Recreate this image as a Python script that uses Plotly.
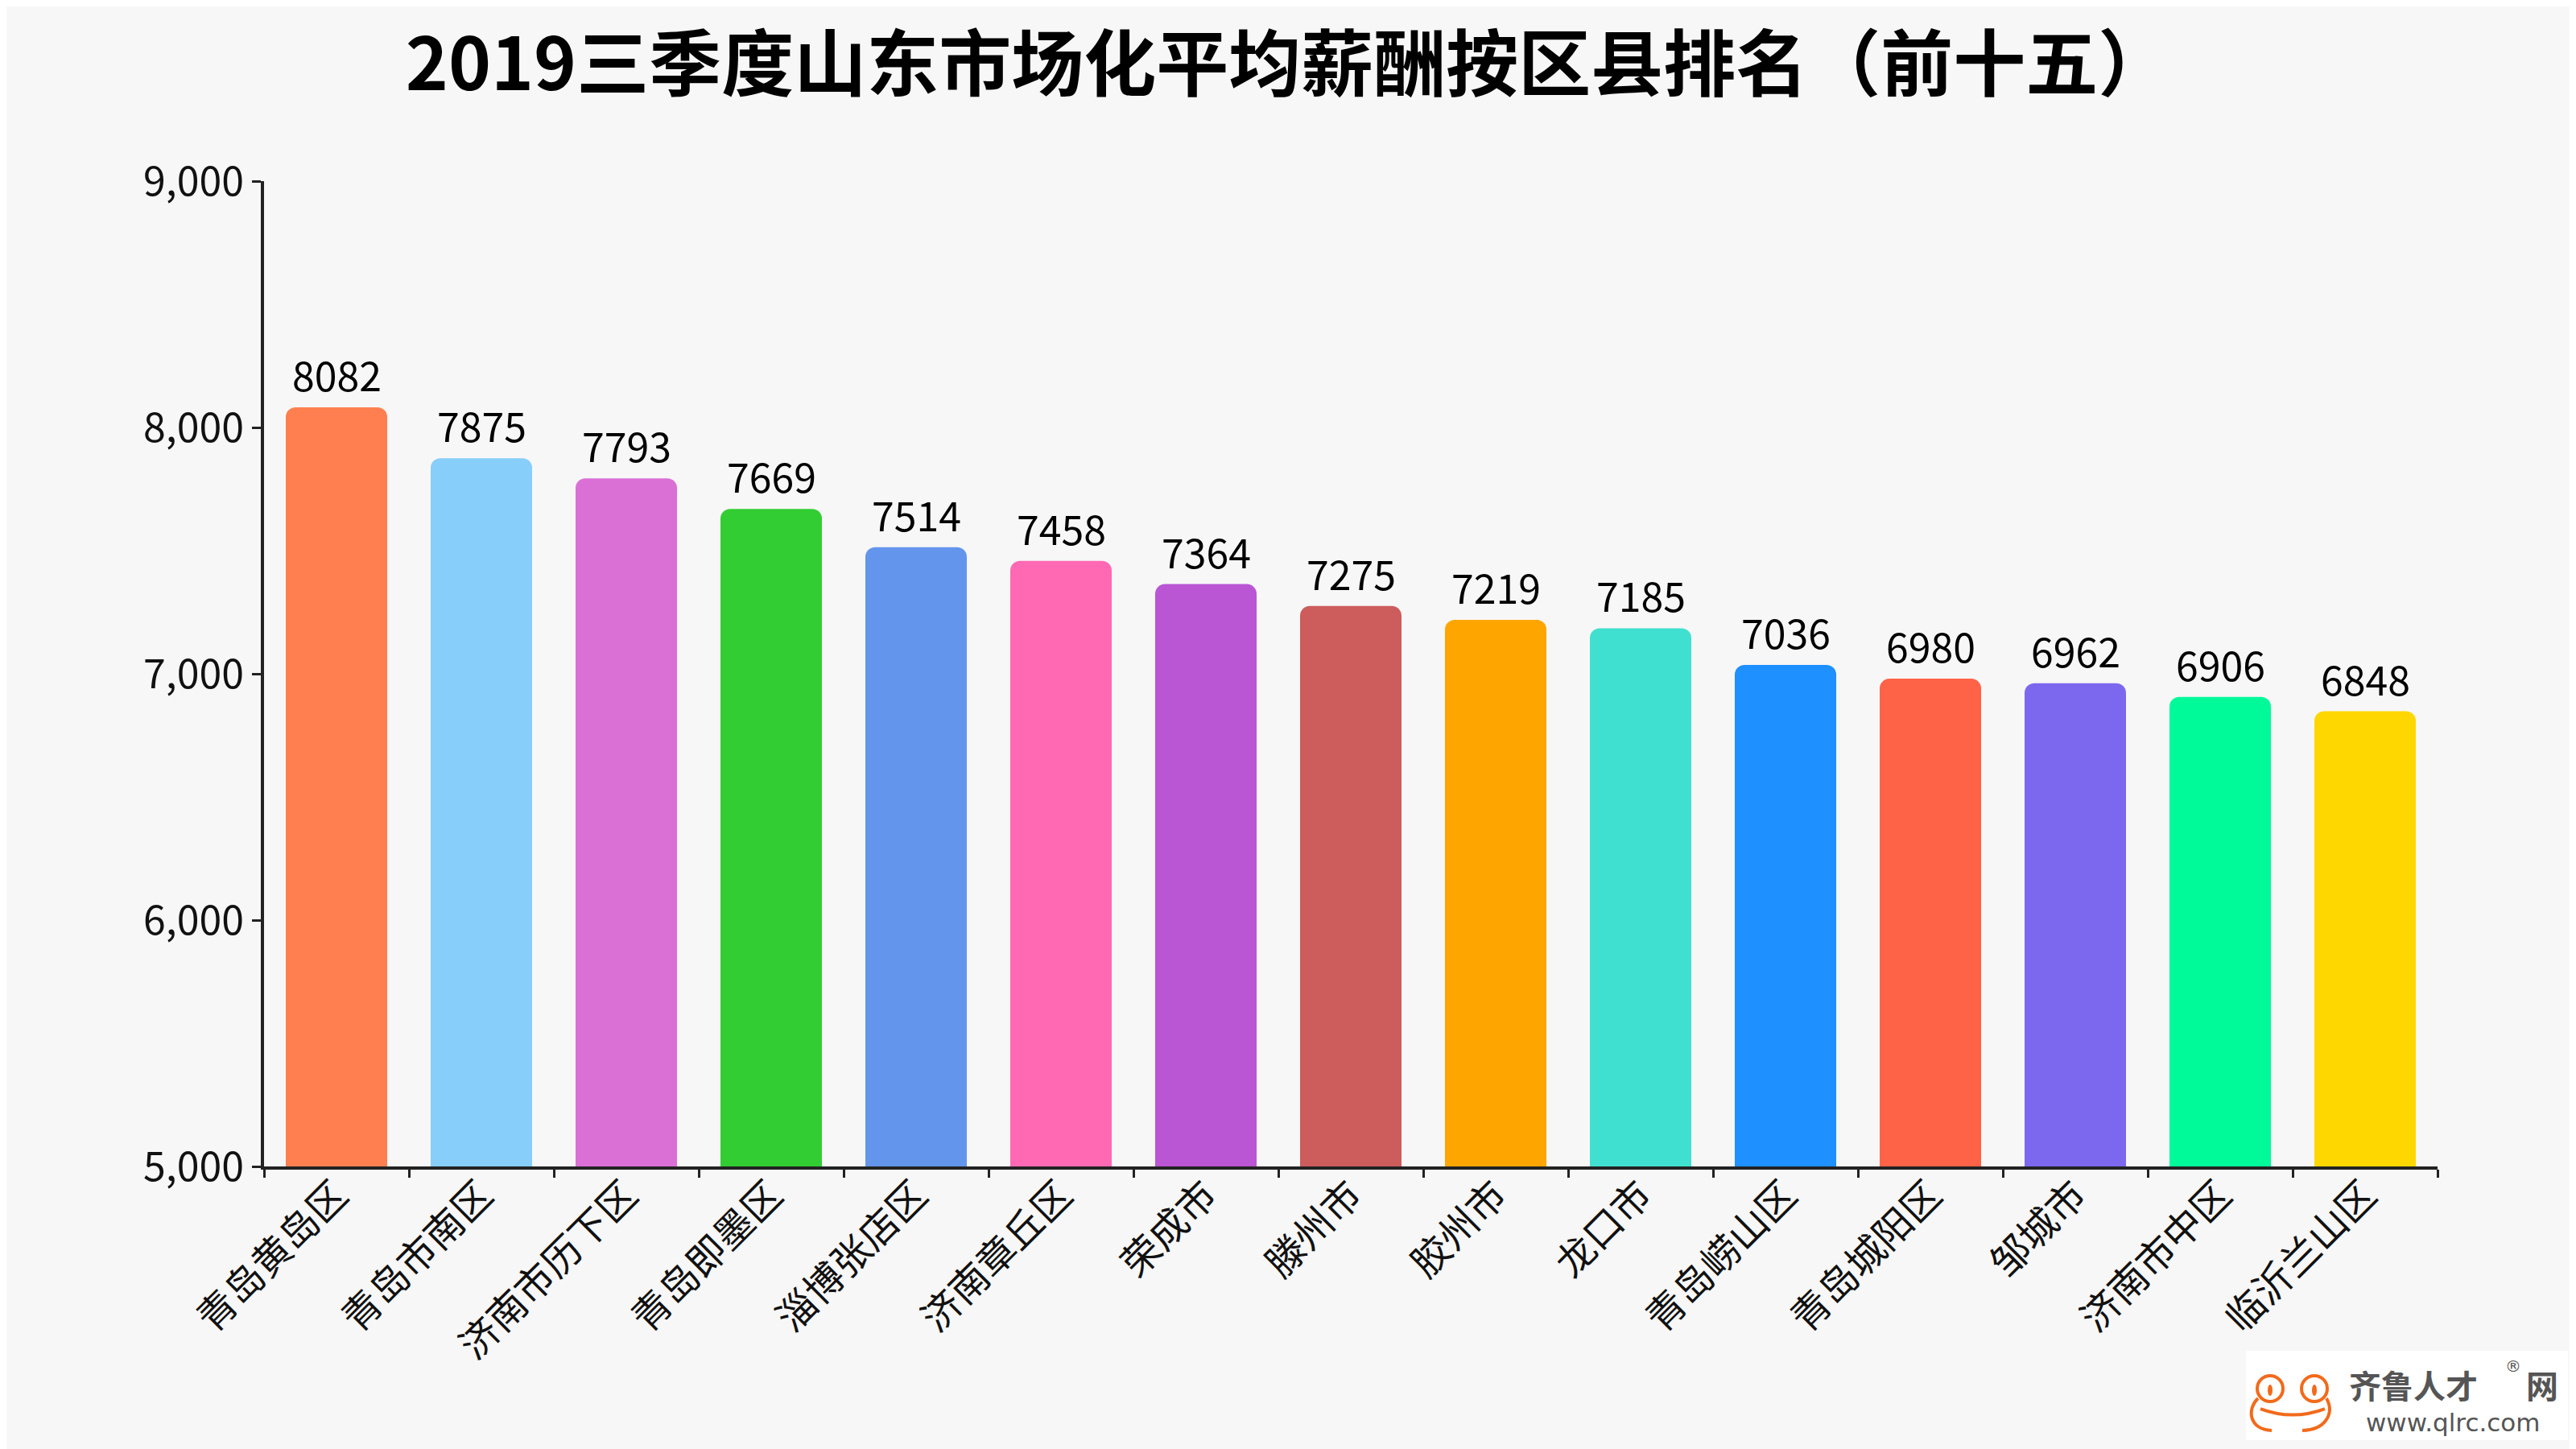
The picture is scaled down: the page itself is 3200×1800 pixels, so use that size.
import plotly.graph_objects as go

categories = ["青岛黄岛区", "青岛市南区", "济南市历下区", "青岛即墨区", "淄博张店区", "济南章丘区",
              "荣成市", "滕州市", "胶州市", "龙口市", "青岛崂山区", "青岛城阳区", "邹城市",
              "济南市中区", "临沂兰山区"]
salaries = [8082, 7875, 7793, 7669, 7514, 7458, 7364, 7275, 7219, 7185, 7036, 6980, 6962, 6906, 6848]
bar_colors = ["#FF7F50", "#87CEFA", "#DA70D6", "#32CD32", "#6495ED", "#FF69B4", "#BA55D3",
              "#CD5C5C", "#FFA500", "#40E0D0", "#1E90FF", "#FF6347", "#7B68EE", "#00FA9A", "#FFD700"]
y_ticks = [5000, 6000, 7000, 8000, 9000]
y_tick_labels = ["5,000", "6,000", "7,000", "8,000", "9,000"]
title_text = "2019三季度山东市场化平均薪酬按区县排名（前十五）"

FONT = "Noto Sans CJK SC, Noto Sans, sans-serif"
OFF = 8  # page body margin in the browser
W, H = 3200 - OFF, 1800 - OFF
# plot area in screen pixels
SX0, SX1, SY0, SY1 = 328, 3028, 225, 1449
PW, PH = SX1 - SX0, SY1 - SY0
L, T = SX0 - OFF, SY0 - OFF
R = W - L - PW
B = H - T - PH


def px(x):
    return (x - SX0) / PW


def py(y):
    return (SY1 - y) / PH


fig = go.Figure()
fig.add_trace(go.Bar(
    x=categories, y=salaries,
    marker=dict(color=bar_colors, line=dict(width=0)),
    width=0.7, hoverinfo="x+y",
))

annotations = []
for c, v in zip(categories, salaries):
    annotations.append(dict(x=c, y=v, xref="x", yref="y", text=str(v), showarrow=False,
                            yanchor="bottom", yshift=4,
                            font=dict(family=FONT, size=50, color="#000000")))

# Logo (decoration)
ORANGE = "#F26A1B"
shapes = [
    dict(type="rect", xref="paper", yref="paper", x0=px(2790), x1=px(3190), y0=py(1789), y1=py(1678),
         fillcolor="#FFFFFF", line=dict(width=0), layer="above"),
    dict(type="circle", xref="paper", yref="paper", x0=px(2804), x1=px(2836), y0=py(1741), y1=py(1709),
         line=dict(color=ORANGE, width=4), layer="above"),
    dict(type="circle", xref="paper", yref="paper", x0=px(2859), x1=px(2891), y0=py(1741), y1=py(1709),
         line=dict(color=ORANGE, width=4), layer="above"),
    dict(type="circle", xref="paper", yref="paper", x0=px(2817), x1=px(2823), y0=py(1734), y1=py(1720),
         fillcolor=ORANGE, line=dict(width=0), layer="above"),
    dict(type="circle", xref="paper", yref="paper", x0=px(2872), x1=px(2878), y0=py(1734), y1=py(1720),
         fillcolor=ORANGE, line=dict(width=0), layer="above"),
]


def P(x, y):
    return f"{px(x):.5f},{py(y):.5f}"


outline = (f"M {P(2805,1737)} C {P(2790,1752)} {P(2795,1776)} {P(2822,1777)} "
           f"M {P(2860,1777)} C {P(2890,1776)} {P(2900,1755)} {P(2890,1737)}")
mouth = f"M {P(2808,1750)} Q {P(2848,1765)} {P(2888,1750)}"
shapes.append(dict(type="path", xref="paper", yref="paper", path=outline,
                   line=dict(color=ORANGE, width=4), layer="above"))
shapes.append(dict(type="path", xref="paper", yref="paper", path=mouth,
                   line=dict(color=ORANGE, width=4), layer="above"))

annotations += [
    dict(xref="paper", yref="paper", x=px(2916), y=py(1720), xanchor="left", yanchor="middle",
         text="<b>齐鲁人才</b>", showarrow=False, font=dict(family=FONT, size=40, color="#555555")),
    dict(xref="paper", yref="paper", x=px(3158), y=py(1720), xanchor="center", yanchor="middle",
         text="<b>网</b>", showarrow=False, font=dict(family=FONT, size=40, color="#555555")),
    dict(xref="paper", yref="paper", x=px(3122), y=py(1697), xanchor="center", yanchor="middle",
         text="®", showarrow=False, font=dict(family="DejaVu Sans, sans-serif", size=20, color="#555555")),
    dict(xref="paper", yref="paper", x=px(3047), y=py(1767), xanchor="center", yanchor="middle",
         text="www.qlrc.com", showarrow=False,
         font=dict(family="DejaVu Sans, sans-serif", size=31, color="#555555")),
]

fig.update_layout(
    width=W, height=H,
    margin=dict(l=L, r=R, t=T, b=B, autoexpand=False),
    paper_bgcolor="#F7F7F7", plot_bgcolor="#F7F7F7",
    barcornerradius=12,
    showlegend=False,
    title=dict(text=title_text, x=(1600 - OFF) / W, xref="container", xanchor="center",
               y=1 - (80 - OFF) / H, yref="container", yanchor="middle",
               font=dict(family=FONT, size=90, color="#000000", weight="bold")),
    xaxis=dict(
        type="category", range=[-0.5, len(categories) - 0.5],
        showline=True, linecolor="#222222", linewidth=4,
        ticks="outside", ticklen=10, tickwidth=3, tickcolor="#222222", tickson="boundaries",
        tickangle=-45, tickfont=dict(family=FONT, size=48, color="#111111"),
        ticklabelstandoff=-16,
        showgrid=False, zeroline=False,
    ),
    yaxis=dict(
        range=[5000, 9000], tickvals=y_ticks, ticktext=y_tick_labels,
        showline=True, linecolor="#222222", linewidth=4,
        ticks="outside", ticklen=11, tickwidth=3, tickcolor="#222222",
        tickfont=dict(family=FONT, size=50, color="#111111"),
        showgrid=False, zeroline=False,
    ),
    annotations=annotations,
    shapes=shapes,
)

fig.write_html("out.html")
